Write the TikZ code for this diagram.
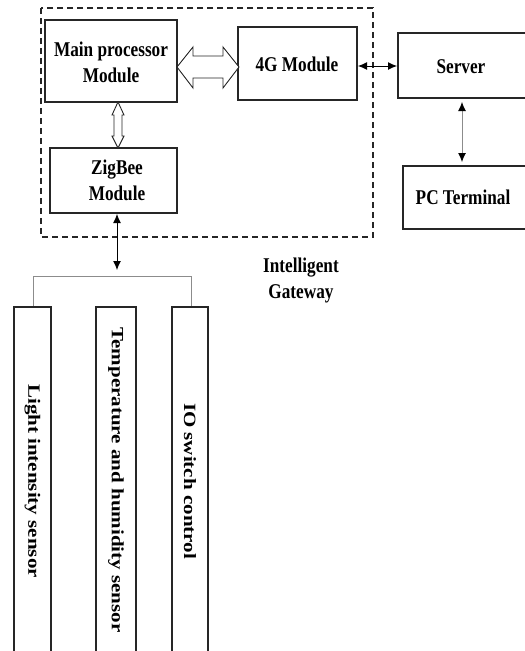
\documentclass[tikz,border=0pt]{standalone}
\usepackage{fontspec}
\setmainfont{Liberation Serif}
\usetikzlibrary{arrows.meta}
% narrow the lettering horizontally
\newcommand{\nar}[1]{\scalebox{0.82}[1]{#1}}
\newcommand{\narv}[1]{\scalebox{1}[0.82]{#1}}
\tikzset{
  blk/.style={draw=black!85, line width=1.2pt},
  lbl/.style={font=\fontsize{21}{26}\selectfont\bfseries, align=center, inner sep=0pt},
  vlbl/.style={font=\fontsize{21}{26}\selectfont\bfseries, rotate=-90, inner sep=0pt},
  hollow/.style={draw=black!85, line width=0.9pt, fill=white, line join=miter},
  link/.style={line width=0.9pt, {Latex[length=9pt,width=8pt,color=black]}-{Latex[length=9pt,width=8pt,color=black]}},
  feed/.style={draw=black!45, line width=0.9pt},
}
\begin{document}
\begin{tikzpicture}[x=1pt, y=-1pt]
\useasboundingbox (0,0) rectangle (525,651);
\clip (0,0) rectangle (525,651);

% gateway enclosure
\draw[black!85, line width=1.2pt, dash pattern=on 6pt off 4pt] (41,8) rectangle (373,237);

% module blocks
\draw[blk] (45,20) rectangle (177,102);
\node[lbl] (main) at (111,62) {\nar{Main processor}\\\nar{Module}};
\draw[blk] (238,27) rectangle (357,100);
\node[lbl] (g4) at (297,64) {\nar{4G Module}};
\draw[blk] (50,148) rectangle (177,213);
\node[lbl] (zig) at (117,180) {\nar{ZigBee}\\\nar{Module}};
\draw[blk] (398,33) rectangle (530,98);
\node[lbl] (srv) at (461,67) {\nar{Server}};
\draw[blk] (403,166) rectangle (530,229);
\node[lbl] (pc) at (463,197) {\nar{PC Terminal}};

\node[lbl] (gw) at (301,280) {\nar{Intelligent}\\\nar{Gateway}};

% wide double arrows inside the gateway
\draw[hollow] (177,67) -- (193,47) -- (193,56) -- (223,56) -- (223,47) -- (239,67)
  -- (223,88) -- (223,78) -- (193,78) -- (193,88) -- cycle;
\draw[hollow] (118,102) -- (112,115) -- (114,115) -- (114,136) -- (112,136) -- (118,148)
  -- (124,136) -- (122,136) -- (122,115) -- (124,115) -- cycle;

% thin links
\coordinate (a1) at (358,66);
\coordinate (a2) at (397,66);
\draw[link] (a1) -- (a2);
\coordinate (b1) at (462,102);
\coordinate (b2) at (462,162);
\draw[link, draw=black!45] (b1) -- (b2);
\coordinate (c1) at (117,214);
\coordinate (c2) at (117,270);
\draw[link] (c1) -- (c2);

% sensor bus
\draw[feed] (33,307) -- (33,276) -- (191,276) -- (191,307);

% sensor columns
\draw[blk] (14,660) -- (14,307) -- (51,307) -- (51,660);
\draw[blk] (96,660) -- (96,307) -- (136,307) -- (136,660);
\draw[blk] (172,660) -- (172,307) -- (208,307) -- (208,660);
\node[vlbl] (s1) at (32.5,481) {\narv{Light intensity sensor}};
\node[vlbl] (s2) at (116,480) {\narv{Temperature and humidity sensor}};
\node[vlbl] (s3) at (190,481) {\narv{IO switch control}};
\end{tikzpicture}
\end{document}
